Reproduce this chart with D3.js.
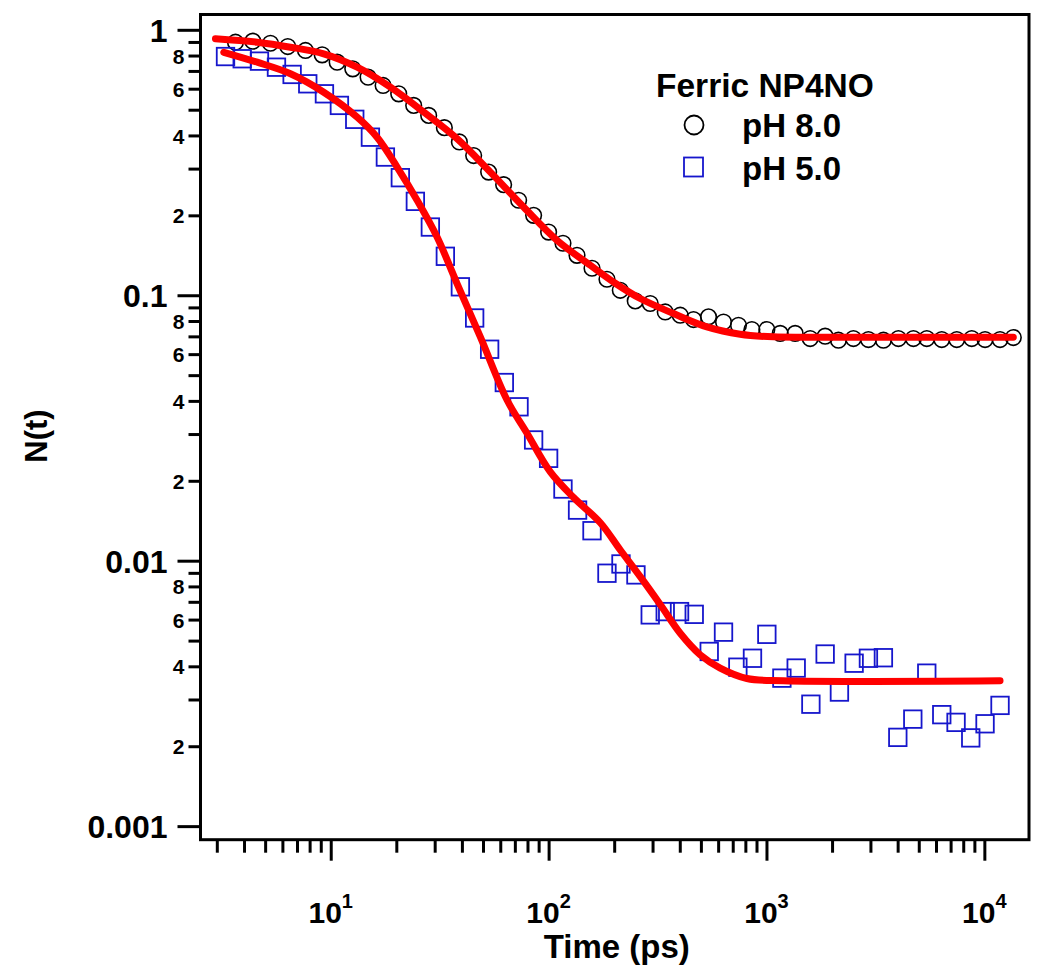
<!DOCTYPE html>
<html><head><meta charset="utf-8">
<script src="https://cdn.jsdelivr.net/npm/d3@7"></script>
<style>
body{margin:0;background:#fff}
text{font-family:"Liberation Sans",Arial,Helvetica,sans-serif;font-weight:bold;fill:#000}
</style>
</head><body>
<svg id="c" width="1050" height="978"></svg>
<script>
// ---- data ----
const tPH8 = [3.654,4.387,5.289,6.350,7.656,9.133,10.70,12.62,14.84,17.39,20.51,24.03,28.15,33.23,38.94,45.29,53.06,62.17,72.85,85.35,100.0,116.4,135.0,158.2,185.3,213.3,249.8,292.7,343.0,401.9,462.5,541.9,635.0,743.9,857.0,1004,1156,1354,1587,1859,2139,2506,2937,3441,4032,4724,5442,6376,7471,8753,10074,11803,13583];
const nPH8 = [0.898,0.906,0.890,0.865,0.836,0.805,0.755,0.713,0.663,0.617,0.574,0.519,0.476,0.428,0.378,0.336,0.291,0.261,0.228,0.200,0.173,0.157,0.1414,0.1264,0.1149,0.1044,0.0952,0.0931,0.0865,0.0841,0.0810,0.0829,0.0793,0.0771,0.0743,0.0743,0.0718,0.0718,0.0687,0.0701,0.0677,0.0687,0.0681,0.0677,0.0687,0.0687,0.0687,0.0681,0.0681,0.0687,0.0681,0.0681,0.0693];
const tPH5 = [3.289,3.924,4.708,5.636,6.650,7.845,9.357,10.96,12.89,15.21,17.82,20.87,24.46,28.66,33.58,39.36,45.77,53.62,62.63,73.15,85.35,100.0,116.4,135.8,158.2,185.3,214.9,251.7,292.7,343.0,399.0,466.0,546.0,635.0,739.1,862.5,1004,1177,1369,1599,1859,2162,2525,2937,3441,4007,4695,5442,6376,7416,8661,10074,11803];
const nPH5 = [0.793,0.778,0.762,0.723,0.679,0.626,0.574,0.519,0.460,0.394,0.3316,0.2773,0.2258,0.1807,0.1402,0.1076,0.0821,0.0626,0.0469,0.0380,0.0285,0.0243,0.01862,0.01551,0.01297,0.00897,0.00972,0.00884,0.00625,0.00643,0.00643,0.00628,0.00455,0.00538,0.00397,0.00429,0.00528,0.00361,0.00394,0.00288,0.00445,0.00320,0.00411,0.00429,0.00431,0.00216,0.00253,0.00377,0.00263,0.00246,0.00215,0.00243,0.00285];
const fit8T = [2.958,4.596,6.534,9.288,13.22,18.79,26.71,38.00,54.02,76.79,109.3,155.4,202.3,263.4,374.5,532.8,757.4,1077,1643,13583];
const fit8N = [0.925,0.898,0.860,0.812,0.723,0.608,0.490,0.389,0.291,0.215,0.161,0.1297,0.1110,0.0972,0.0853,0.0760,0.0713,0.0697,0.0695,0.0695];
const fit5T = [3.230,4.596,6.534,9.288,13.22,16.32,20.17,24.91,30.77,38.00,48.60,64.45,79.60,101.8,130.2,172.7,213.3,263.4,325.4,401.9,496.5,613.1,813.0,1197,11803];
const fit5N = [0.823,0.755,0.683,0.582,0.469,0.394,0.304,0.228,0.1657,0.1107,0.0697,0.0403,0.0302,0.0216,0.0173,0.01390,0.01097,0.00871,0.00684,0.00533,0.00442,0.00394,0.00360,0.00353,0.00353];

const yMajor = [1, 0.1, 0.01, 0.001];
const yMajorLabels = ["1", "0.1", "0.01", "0.001"];
const yDecades = [0.001, 0.01, 0.1];
const minorMult = [2,3,4,5,6,7,8,9];
const minorLabelMult = [2,4,6,8];
const xMajor = [10, 100, 1000, 10000];
const xMajorExp = ["1", "2", "3", "4"];
const xDecades = [1, 10, 100, 1000];
const legendTitle = "Ferric NP4NO";
const seriesNames = ["pH 8.0", "pH 5.0"];

// ---- scales ----
const L = 200.5, R = 1029, T = 14.5, B = 839.7;
const x = d3.scaleLog().domain([2.525, 16030]).range([L, R]);
const y = d3.scaleLog().domain([0.000889, 1.142]).range([B, T]);

const svg = d3.select("#c");

// ---- Y axis ----
const yMinor = [];
yDecades.forEach(d => minorMult.forEach(m => yMinor.push(+(d*m).toPrecision(3))));
const gYmaj = svg.append("g").attr("transform", `translate(${L},0)`)
  .call(d3.axisLeft(y).tickValues(yMajor).tickSize(23).tickPadding(10)
    .tickFormat((d,i) => yMajorLabels[i]));
gYmaj.selectAll("text").attr("font-size", 32).attr("dy", "0.36em");
const gYmin = svg.append("g").attr("transform", `translate(${L},0)`)
  .call(d3.axisLeft(y).tickValues(yMinor).tickSize(12).tickPadding(4)
    .tickFormat(d => { const m = Math.round(d / Math.pow(10, Math.floor(Math.log10(d)+1e-9))); return minorLabelMult.includes(m) ? String(m) : ""; }));
gYmin.selectAll("text").attr("font-size", 21).attr("dy", "0.36em");

// ---- X axis ----
const xMinor = [];
xDecades.forEach(d => minorMult.forEach(m => { const v = d*m; if (v >= 2.525 && v <= 16030) xMinor.push(v); }));
const gXmaj = svg.append("g").attr("transform", `translate(0,${B})`)
  .call(d3.axisBottom(x).tickValues(xMajor).tickSize(21).tickFormat(""));
const gXmin = svg.append("g").attr("transform", `translate(0,${B})`)
  .call(d3.axisBottom(x).tickValues(xMinor).tickSize(13).tickFormat(""));
[gYmaj, gYmin, gXmaj, gXmin].forEach(g => {
  g.select(".domain").remove();
  g.selectAll("line").attr("stroke", "#000").attr("stroke-width", 3);
  g.attr("font-family", null);
});
xMajor.forEach((v, i) => {
  const t = svg.append("text").attr("x", x(v)).attr("y", 923).attr("text-anchor", "middle").attr("font-size", 30);
  t.append("tspan").text("10");
  t.append("tspan").attr("dy", -15).attr("font-size", 20).text(xMajorExp[i]);
});

// ---- frame ----
svg.append("rect").attr("x", L).attr("y", T).attr("width", R-L).attr("height", B-T)
  .attr("fill", "none").attr("stroke", "#000").attr("stroke-width", 3);

// ---- axis titles ----
svg.append("text").attr("x", (L+R)/2 + 2).attr("y", 958).attr("text-anchor", "middle").attr("font-size", 33).text("Time (ps)");
svg.append("text").attr("transform", "translate(47,436) rotate(-90)").attr("text-anchor", "middle").attr("font-size", 31).text("N(t)");

// ---- markers ----
const d8 = tPH8.map((t,i) => [t, nPH8[i]]);
const d5 = tPH5.map((t,i) => [t, nPH5[i]]);
const BLUE = "#1616cc";
svg.append("g").selectAll("circle").data(d8).join("circle")
  .attr("cx", d => x(d[0])).attr("cy", d => y(d[1])).attr("r", 7.8)
  .attr("fill", "none").attr("stroke", "#000").attr("stroke-width", 1.6);
const S = 17.5;
svg.append("g").selectAll("rect").data(d5).join("rect")
  .attr("x", d => x(d[0]) - S/2).attr("y", d => y(d[1]) - S/2).attr("width", S).attr("height", S)
  .attr("fill", "none").attr("stroke", BLUE).attr("stroke-width", 1.8);

// ---- fit lines ----
const line = d3.line().x(d => x(d[0])).y(d => y(d[1])).curve(d3.curveCatmullRom.alpha(0.5));
[[fit8T, fit8N], [fit5T, fit5N]].forEach(([ts, ns]) => {
  svg.append("path").datum(ts.map((t,i) => [t, ns[i]])).attr("d", line)
    .attr("fill", "none").attr("stroke", "#ff0000").attr("stroke-width", 7)
    .attr("stroke-linecap", "round").attr("stroke-linejoin", "round");
});

// ---- legend ----
svg.append("text").attr("x", 656).attr("y", 97).attr("font-size", 33.5).text(legendTitle);
svg.append("circle").attr("cx", 694).attr("cy", 125).attr("r", 9.5)
  .attr("fill", "none").attr("stroke", "#000").attr("stroke-width", 1.8);
svg.append("text").attr("x", 742).attr("y", 137).attr("font-size", 33).text(seriesNames[0]);
svg.append("rect").attr("x", 693.5 - 9.5).attr("y", 167 - 9.5).attr("width", 19).attr("height", 19)
  .attr("fill", "none").attr("stroke", BLUE).attr("stroke-width", 1.8);
svg.append("text").attr("x", 742).attr("y", 180).attr("font-size", 33).text(seriesNames[1]);
</script>
</body></html>
